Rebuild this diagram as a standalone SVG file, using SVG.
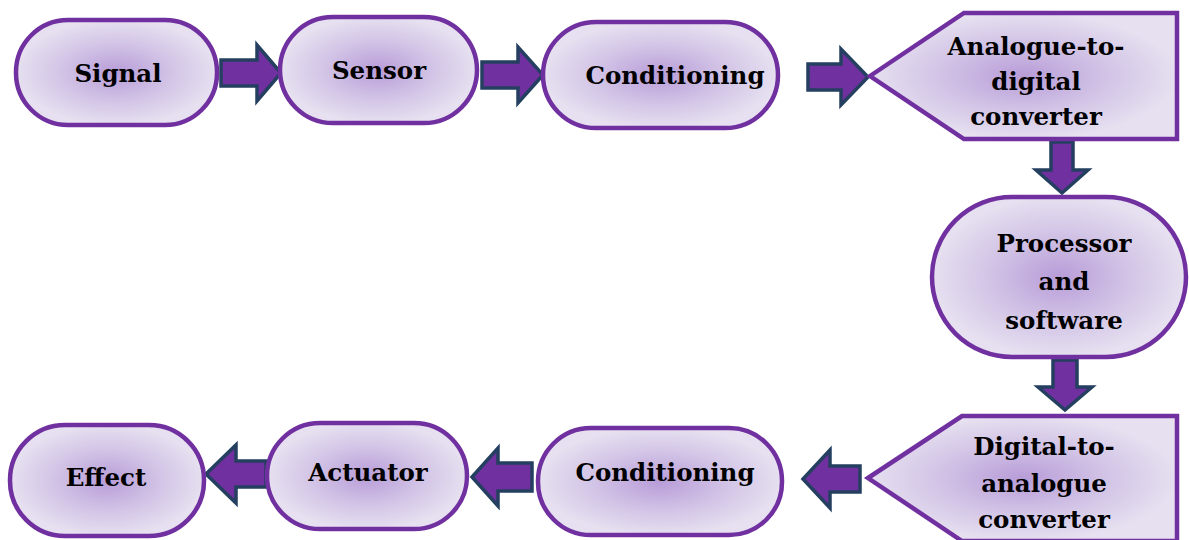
<svg xmlns="http://www.w3.org/2000/svg" width="1189" height="540" viewBox="0 0 1189 540">
<defs>
<radialGradient id="g" cx="0.5" cy="0.5" r="0.5">
<stop offset="0" stop-color="#B89CD8"/>
<stop offset="0.55" stop-color="#D2C4E6"/>
<stop offset="1" stop-color="#E6E0F0"/>
</radialGradient>
<style>
.n{fill:url(#g);stroke:#7030A0;stroke-width:4.5}
.a{fill:#7030A0;stroke:#243F60;stroke-width:3.5;stroke-linejoin:miter}
.t{font-family:'DejaVu Serif','Liberation Serif',serif;font-weight:bold;font-size:24.5px;fill:#000;text-anchor:middle}
</style>
</defs>
<rect width="1189" height="540" fill="#fff"/>
<g id="connectors">
<path class="a" d="M221,60 H257 V45 L281,73 L257,101 V86 H221 Z"/>
<path class="a" d="M482,62 H518 V47 L543,75 L518,103 V88 H482 Z"/>
<path class="a" d="M808,64 H841 V49 L868,77 L841,105 V90 H808 Z"/>
<path class="a" d="M1051,142 V170 H1036 L1062,193 L1088,170 H1073 V142 Z"/>
<path class="a" d="M1053,360 V387 H1038 L1065,410 L1092,387 H1077 V360 Z"/>
<path class="a" d="M860,466 H830 V450 L803,479 L830,508 V492 H860 Z"/>
<path class="a" d="M532,463 H498 V448 L472,477 L498,506 V491 H532 Z"/>
<path class="a" d="M266,461 H236 V445 L206,474 L236,503 V487 H266 Z"/>
</g>
<g id="signal"><rect class="n" x="16" y="20" width="201" height="105" rx="52"/><text class="t" x="118" y="82">Signal</text></g>
<g id="sensor"><rect class="n" x="280" y="17" width="197" height="106" rx="53"/><text class="t" x="379" y="79">Sensor</text></g>
<g id="conditioning1"><rect class="n" x="543" y="22" width="235" height="106" rx="53"/><text class="t" x="675" y="84">Conditioning</text></g>
<g id="adc"><polygon class="n" points="870,76 964,13 1177,13 1177,139 964,139"/><text class="t" x="1036" y="55">Analogue-to-</text><text class="t" x="1036" y="90">digital</text><text class="t" x="1036" y="125">converter</text></g>
<g id="processor"><rect class="n" x="932" y="197" width="254" height="160" rx="80"/><text class="t" x="1064" y="252">Processor</text><text class="t" x="1064" y="290">and</text><text class="t" x="1064" y="329">software</text></g>
<g id="dac"><polygon class="n" points="868,478 962,416 1177,416 1177,541 962,541"/><text class="t" x="1044" y="455">Digital-to-</text><text class="t" x="1044" y="492">analogue</text><text class="t" x="1044" y="528">converter</text></g>
<g id="conditioning2"><rect class="n" x="538" y="428" width="244" height="107" rx="53"/><text class="t" x="665" y="481">Conditioning</text></g>
<g id="actuator"><rect class="n" x="267" y="423" width="200" height="106" rx="53"/><text class="t" x="368" y="481">Actuator</text></g>
<g id="effect"><rect class="n" x="10" y="425" width="194" height="111" rx="55"/><text class="t" x="106" y="486">Effect</text></g>
</svg>
